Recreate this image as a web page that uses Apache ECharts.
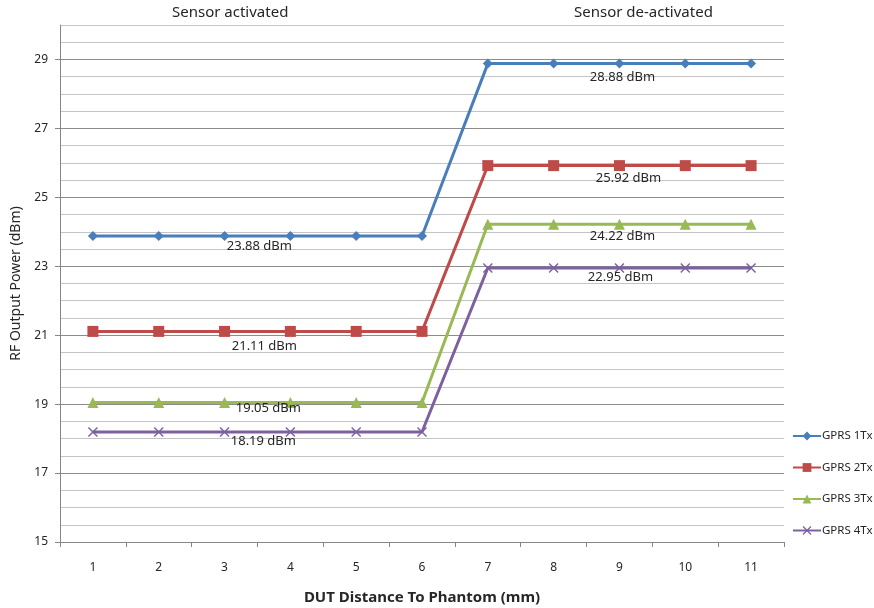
<!DOCTYPE html>
<html>
<head>
<meta charset="utf-8">
<script src="https://cdn.jsdelivr.net/npm/echarts@6/dist/echarts.min.js"></script>
<style>
  html, body { margin: 0; padding: 0; background: #fff; }
  #chart { width: 874px; height: 608px; }
</style>
</head>
<body>
<div id="chart"></div>
<script>
// x categories (mm)
const distances = ['1', '2', '3', '4', '5', '6', '7', '8', '9', '10', '11'];
const seriesNames = ['GPRS 1Tx', 'GPRS 2Tx', 'GPRS 3Tx', 'GPRS 4Tx'];
const gprs1 = [23.88, 23.88, 23.88, 23.88, 23.88, 23.88, 28.88, 28.88, 28.88, 28.88, 28.88];
const gprs2 = [21.11, 21.11, 21.11, 21.11, 21.11, 21.11, 25.92, 25.92, 25.92, 25.92, 25.92];
const gprs3 = [19.05, 19.05, 19.05, 19.05, 19.05, 19.05, 24.22, 24.22, 24.22, 24.22, 24.22];
const gprs4 = [18.19, 18.19, 18.19, 18.19, 18.19, 18.19, 22.95, 22.95, 22.95, 22.95, 22.95];
const yTickLabels = [15, 17, 19, 21, 23, 25, 27, 29];
const sectionTitles = ['Sensor activated', 'Sensor de-activated'];

const colors = ['#4a7ebb', '#be4b48', '#98b954', '#7d60a0'];
const xMark = 'path://M0,1 L1,0 L5,4 L9,0 L10,1 L6,5 L10,9 L9,10 L5,6 L1,10 L0,9 L4,5 Z';
const symbols = ['diamond', 'rect', 'triangle', xMark];
const symbolSizes = [10, 11, 11, 10];
// label offsets for the two value labels on each line (index 3 and index 8)
const labelOffsets = [
  [[-31, -1], [3, 2]],
  [[-26, 3], [9, 1]],
  [[-22, -6], [3, 0]],
  [[-27, -2], [1, -2]]
];

const chart = echarts.init(document.getElementById('chart'));
const font = 'Noto Sans';

function buildData(values, idx) {
  return values.map((v, i) => {
    if (i === 3 || i === 8) {
      return {
        value: v,
        label: {
          show: true,
          position: 'bottom',
          distance: 0,
          offset: labelOffsets[idx][i === 3 ? 0 : 1],
          formatter: (p) => p.value.toFixed(2) + ' dBm',
          fontSize: 13,
          fontFamily: font,
          color: '#262626'
        }
      };
    }
    return v;
  });
}

const allValues = [gprs1, gprs2, gprs3, gprs4];

const option = {
  animation: false,
  grid: { left: 60, right: 90, top: 25, bottom: 66, outerBoundsMode: 'none', containLabel: false },
  graphic: [
    { type: 'text', left: 172, top: 5, style: { text: sectionTitles[0], fontSize: 15, fontFamily: font, fill: '#262626' } },
    { type: 'text', left: 574, top: 5, style: { text: sectionTitles[1], fontSize: 15, fontFamily: font, fill: '#262626' } }
  ],
  legend: {
    orient: 'vertical',
    left: 787,
    top: 425,
    itemGap: 19.5,
    itemWidth: 28,
    itemHeight: 11,
    data: seriesNames,
    textStyle: { fontSize: 11.5, fontFamily: font, color: '#262626', padding: [0, 0, 0, -4] }
  },
  xAxis: {
    type: 'category',
    data: distances,
    boundaryGap: true,
    name: 'DUT Distance To Phantom (mm)',
    nameLocation: 'middle',
    nameGap: 48,
    nameTextStyle: { fontSize: 15, fontWeight: 'bold', fontFamily: font, color: '#262626' },
    axisLine: { lineStyle: { color: '#868686', width: 1 } },
    axisTick: { show: true, length: 5, lineStyle: { color: '#868686' } },
    axisLabel: { margin: 20, fontSize: 12, fontFamily: font, color: '#262626' },
    splitLine: { show: false }
  },
  yAxis: [
    {
      // grid lines every 0.5, darker at the labelled values
      type: 'value',
      min: 15,
      max: 30,
      interval: 0.5,
      axisLine: { show: true, lineStyle: { color: '#868686', width: 1 } },
      axisTick: { show: false },
      axisLabel: { show: false },
      splitLine: {
        show: true,
        lineStyle: { color: ['#8c8c8c', '#c4c4c4', '#c4c4c4', '#c4c4c4'], width: 1 }
      }
    },
    {
      // labels and ticks
      type: 'value',
      position: 'left',
      min: 15,
      max: 30,
      interval: 2,
      name: 'RF Output Power (dBm)',
      nameLocation: 'middle',
      nameGap: 35,
      nameTextStyle: { fontSize: 14, fontFamily: font, color: '#262626' },
      axisLine: { show: false },
      axisTick: { show: true, length: 5, customValues: yTickLabels, lineStyle: { color: '#868686' } },
      axisLabel: { customValues: yTickLabels, margin: 12, fontSize: 12, fontFamily: font, color: '#262626' },
      splitLine: { show: false }
    }
  ],
  series: allValues.map((vals, idx) => ({
    name: seriesNames[idx],
    type: 'line',
    data: buildData(vals, idx),
    symbol: symbols[idx],
    symbolSize: symbolSizes[idx],
    color: colors[idx],
    lineStyle: { width: 3, color: colors[idx] },
    itemStyle: { color: colors[idx] },
    z: 10 - idx
  }))
};

chart.setOption(option);
</script>
</body>
</html>
